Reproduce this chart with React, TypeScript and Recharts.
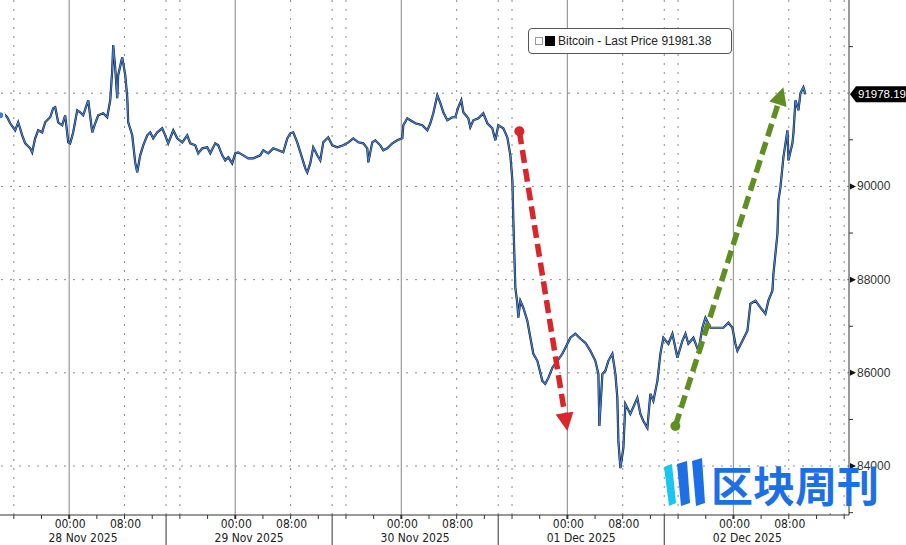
import React from "react";
import {
  ComposedChart,
  Line,
  XAxis,
  YAxis,
  ReferenceLine,
  ReferenceDot,
} from "recharts";

// hours from 28 Nov 2025 00:00
const HOURS = [
  -9.98, -9.54, -8.96, -8.53, -7.81, -7.37, -6.79, -6.36, -5.64, -5.35, -4.92, -4.48, -3.9, -3.47,
  -2.75, -2.31, -2.02, -1.59, -1.01, -0.58, -0.14, 0.14, 0.58, 1.16, 1.59, 2.02, 2.75, 3.33, 3.76,
  4.19, 4.92, 5.49, 5.93, 6.22, 6.36, 6.65, 6.94, 7.08, 7.66, 8.1, 8.39, 8.53, 9.11, 9.54, 9.83,
  10.26, 10.7, 11.28, 11.71, 12.14, 12.72, 13.44, 13.88, 14.31, 15.04, 15.61, 16.34, 17.06, 17.49,
  18.22, 18.65, 19.23, 19.95, 20.39, 21.11, 21.54, 22.12, 22.55, 22.99, 23.56, 24.0, 24.43, 25.16,
  25.88, 26.6, 27.61, 28.05, 28.77, 29.49, 30.22, 30.94, 31.52, 31.95, 32.38, 32.96, 33.68, 34.12,
  34.41, 34.84, 35.27, 35.85, 36.29, 36.72, 37.44, 38.02, 38.74, 39.61, 40.34, 41.06, 41.78, 42.5,
  43.08, 43.23, 43.8, 44.24, 44.96, 45.4, 45.97, 46.7, 47.42, 48.14, 48.29, 48.86, 49.3, 50.02,
  51.03, 51.76, 52.19, 52.62, 53.2, 53.64, 54.07, 54.65, 55.37, 55.8, 56.24, 56.67, 56.96, 57.68,
  57.97, 58.41, 59.13, 59.85, 60.43, 61.15, 61.59, 62.02, 62.74, 63.32, 63.76, 64.05, 64.19, 64.33,
  64.48, 64.77, 64.91, 65.2, 65.63, 66.21, 66.65, 67.08, 67.66, 68.38, 68.81, 69.25, 69.83, 70.55,
  71.27, 71.71, 72.43, 73.15, 73.88, 74.6, 75.32, 76.04, 76.48, 76.62, 77.06, 77.49, 77.92, 78.5,
  78.94, 79.22, 79.37, 79.66, 80.09, 80.38, 81.1, 82.11, 82.55, 82.98, 83.56, 83.99, 84.43, 85.01,
  85.44, 85.87, 86.6, 87.18, 87.9, 88.62, 89.06, 89.49, 90.21, 90.94, 91.51, 91.95, 92.67, 93.68,
  94.55, 95.27, 95.85, 96.28, 96.57, 97.3, 98.02, 98.45, 99.18, 99.9, 100.62, 101.05, 101.63,
  101.78, 102.07, 102.36, 102.5, 102.79, 103.22, 103.8, 103.95, 104.52, 104.67, 104.96, 105.39,
  105.68, 106.11, 106.4,
];

const PRICES = [
  91527, 91570, 91484, 91355, 91204, 91376, 91097, 90925, 90817, 90731, 91032, 91204, 91161, 91376,
  91484, 91677, 91699, 91376, 91312, 91527, 90946, 90925, 91161, 91634, 91591, 91527, 91849, 91161,
  91355, 91527, 91570, 91484, 91849, 92494, 93032, 92537, 91892, 92387, 92774, 92387, 91914, 91376,
  91097, 90516, 90301, 90667, 90882, 91097, 91161, 91032, 91161, 91247, 91097, 90925, 91204, 91032,
  90946, 91097, 90925, 90882, 90710, 90817, 90839, 90710, 90925, 90882, 90667, 90559, 90624, 90495,
  90710, 90731, 90667, 90602, 90602, 90667, 90774, 90710, 90817, 90774, 90731, 91032, 91140, 91161,
  90946, 90602, 90387, 90301, 90495, 90839, 90667, 90559, 90946, 91054, 90882, 90839, 90882, 90946,
  91032, 90946, 90925, 90817, 90516, 90946, 90989, 90882, 90774, 90817, 90925, 90989, 91032, 91312,
  91462, 91419, 91355, 91312, 91204, 91355, 91570, 91957, 91785, 91591, 91419, 91484, 91484, 91699,
  91849, 91591, 91462, 91269, 91419, 91462, 91570, 91355, 91247, 90989, 91312, 91247, 91054, 90667,
  90129, 89269, 88559, 87828, 87484, 87183, 87548, 87398, 87118, 86753, 86409, 86258, 85828, 85763,
  85892, 86107, 86258, 86409, 86538, 86753, 86839, 86731, 86645, 86473, 86258, 85978, 84860, 85978,
  86043, 86258, 86409, 85978, 85462, 84538, 83957, 84387, 85333, 85118, 85462, 85118, 84968, 84817,
  85548, 85398, 85828, 86409, 86753, 86624, 86839, 86323, 86688, 86839, 86624, 86753, 86473, 86968,
  87183, 86968, 86968, 86968, 87075, 86968, 86624, 86473, 86688, 86903, 87484, 87548, 87398, 87269,
  87548, 87763, 88129, 88559, 88989, 89699, 89978, 90624, 91204, 90559, 90925, 91140, 91849, 91634,
  92000, 92129, 91978,
];

const LAST_PRICE = 91978.19;
const LEGEND_PRICE = 91981.38;

const DAYS = ["28 Nov 2025", "29 Nov 2025", "30 Nov 2025", "01 Dec 2025", "02 Dec 2025"];
const DATE_CENTERS = [2, 26, 50, 74, 98];
const SEPARATORS = [14, 38, 62, 86];
const TIME_TICKS = [
  -8, -4, 0, 4, 8, 12, 16, 20, 24, 28, 32, 36, 40, 44, 48, 52, 56, 60, 64, 68, 72, 76, 80, 84, 88,
  92, 96, 100, 104, 108, 112,
];
const DAY_STARTS = [0, 24, 48, 72, 96];
const DOTTED_HOURS = [-8, 8, 14, 16, 32, 38, 40, 56, 62, 64, 80, 86, 88, 104, 110, 112];
const PRICE_GRID = [84000, 86000, 88000, 90000, 92000];
const PRICE_TICKS = [83000, 84000, 85000, 86000, 87000, 88000, 89000, 90000, 91000, 92000, 93000];

const RED_ARROW = [
  { h: 65.06, p: 91183 },
  { h: 72.0, p: 84753 },
];
const GREEN_ARROW = [
  { h: 87.61, p: 84860 },
  { h: 103.22, p: 92129 },
];

const data = HOURS.map((h, i) => ({ h, p: PRICES[i] }));
const xTicks = [...TIME_TICKS, ...SEPARATORS, ...DATE_CENTERS].sort((a, b) => a - b);

const AXIS_FONT = "'DejaVu Sans Condensed', 'DejaVu Sans', sans-serif";

function TimeTick(props: any) {
  const { x, y, payload } = props;
  const v = payload.value;
  const di = DATE_CENTERS.indexOf(v);
  if (di >= 0) {
    return (
      <text x={x} y={y + 27} textAnchor="middle" fontSize={12} fill="#222" fontFamily={AXIS_FONT}>
        {DAYS[di]}
      </text>
    );
  }
  if (SEPARATORS.includes(v)) {
    return <line x1={x} y1={y} x2={x} y2={y + 30} stroke="#333" strokeWidth={1} />;
  }
  const mod = ((v % 24) + 24) % 24;
  const label = mod === 0 ? "00:00" : mod === 8 ? "08:00" : null;
  return (
    <g>
      <line x1={x} y1={y} x2={x} y2={y + 4} stroke="#333" strokeWidth={mod === 0 ? 2 : 1} />
      {label && (
        <text x={x + 1} y={y + 13} textAnchor="middle" fontSize={12} fill="#222" fontFamily={AXIS_FONT}>
          {label}
        </text>
      )}
    </g>
  );
}

function PriceTick(props: any) {
  const { x, y, payload } = props;
  const v = payload.value;
  if (v % 2000 !== 0) {
    return <line x1={x} y1={y} x2={x + 4} y2={y} stroke="#333" strokeWidth={1} />;
  }
  if (v === 92000) return <g />;
  return (
    <g>
      <polygon points={`${x + 1},${y - 3} ${x + 7},${y} ${x + 1},${y + 3}`} fill="#111" />
      <text x={x + 8} y={y + 4} fontSize={12} fill="#333" fontFamily="'Liberation Sans', Arial, sans-serif">
        {v}
      </text>
    </g>
  );
}

function Arrow(props: any) {
  const { x1, y1, x2, y2, color } = props;
  const dx = x2 - x1;
  const dy = y2 - y1;
  const len = Math.sqrt(dx * dx + dy * dy);
  const ux = dx / len;
  const uy = dy / len;
  const head = 18;
  const half = 9;
  const bx = x2 - ux * head;
  const by = y2 - uy * head;
  return (
    <g>
      <line
        x1={x1}
        y1={y1}
        x2={bx}
        y2={by}
        stroke={color}
        strokeWidth={5.5}
        strokeDasharray="13 6"
      />
      <circle cx={x1} cy={y1} r={5} fill={color} />
      <polygon
        points={`${x2},${y2} ${bx - uy * half},${by + ux * half} ${bx + uy * half},${by - ux * half}`}
        fill={color}
      />
    </g>
  );
}

function PriceTag(props: any) {
  const { cx, cy } = props;
  return (
    <g>
      <polygon
        points={`${cx + 1},${cy} ${cx + 7},${cy - 8} ${cx + 57},${cy - 8} ${cx + 57},${cy + 8} ${cx + 7},${cy + 8}`}
        fill="#000"
      />
      <text x={cx + 9} y={cy + 4} fontSize={11.5} fill="#fff" fontFamily="'Liberation Sans', Arial, sans-serif">
        {LAST_PRICE.toFixed(2)}
      </text>
    </g>
  );
}

export default function App() {
  return (
    <div style={{ position: "absolute", left: 0, top: 0, width: 906, height: 545, background: "#fff", overflow: "hidden" }}>
      <ComposedChart width={906} height={545} data={data} margin={{ top: 0, right: 0, left: 0, bottom: 0 }}>
        <XAxis
          dataKey="h"
          type="number"
          domain={[-10, 112.7]}
          allowDataOverflow
          ticks={xTicks}
          interval={0}
          tick={<TimeTick />}
          tickLine={false}
          tickSize={0}
          tickMargin={0}
          height={30}
          axisLine={{ stroke: "#333" }}
        />
        <YAxis
          orientation="right"
          type="number"
          domain={[82950, 94000]}
          allowDataOverflow
          ticks={PRICE_TICKS}
          interval={0}
          tick={<PriceTick />}
          tickLine={false}
          tickSize={0}
          tickMargin={0}
          width={57}
          axisLine={{ stroke: "#333" }}
        />
        {PRICE_GRID.map((p) => (
          <ReferenceLine key={`g${p}`} y={p} stroke="#8a8a8a" strokeDasharray="2 7" />
        ))}
        {DOTTED_HOURS.map((h) => (
          <ReferenceLine key={`d${h}`} x={h} stroke="#8a8a8a" strokeDasharray="2 7" />
        ))}
        {DAY_STARTS.map((h) => (
          <ReferenceLine key={`s${h}`} x={h} stroke="#9a9a9a" strokeWidth={1.2} />
        ))}
        <Line dataKey="p" type="linear" stroke="#111" strokeWidth={2.2} dot={false} isAnimationActive={false} />
        <Line dataKey="p" type="linear" stroke="#3b7dd8" strokeWidth={1.3} dot={false} isAnimationActive={false} />
        <ReferenceLine
          segment={[
            { x: RED_ARROW[0].h, y: RED_ARROW[0].p },
            { x: RED_ARROW[1].h, y: RED_ARROW[1].p },
          ]}
          ifOverflow="visible"
          shape={(p: any) => <Arrow {...p} color="#d9262b" />}
        />
        <ReferenceLine
          segment={[
            { x: GREEN_ARROW[0].h, y: GREEN_ARROW[0].p },
            { x: GREEN_ARROW[1].h, y: GREEN_ARROW[1].p },
          ]}
          ifOverflow="visible"
          shape={(p: any) => <Arrow {...p} color="#5f8f22" />}
        />
        <ReferenceDot x={112.7} y={LAST_PRICE} r={0} ifOverflow="visible" shape={(p: any) => <PriceTag {...p} />} />
      </ComposedChart>

      <div
        style={{
          position: "absolute",
          left: 528,
          top: 28,
          width: 202,
          height: 24,
          border: "1px solid #555",
          borderRadius: 4,
          background: "#fff",
          display: "flex",
          alignItems: "center",
          fontFamily: "'Liberation Sans', Arial, sans-serif",
          fontSize: 12,
          color: "#222",
          whiteSpace: "nowrap",
        }}
      >
        <span
          style={{
            display: "inline-block",
            width: 6,
            height: 6,
            border: "1px solid #999",
            marginLeft: 6,
            marginRight: 2,
          }}
        />
        <span style={{ display: "inline-block", width: 10, height: 10, background: "#000", marginRight: 3 }} />
        <span>Bitcoin - Last Price {LEGEND_PRICE.toFixed(2)}</span>
      </div>

      <svg width={906} height={545} style={{ position: "absolute", left: 0, top: 0, pointerEvents: "none" }}>
        <polygon points="664,467 672,464 676,503 669,506" fill="#19c6ef" />
        <polygon points="677,464 687,461 690,503 681,506" fill="#1d6fe6" />
        <polygon points="692,461 702,458 705,503 696,506" fill="#1d6fe6" />
      </svg>
      <div
        style={{
          position: "absolute",
          left: 711,
          top: 460,
          fontFamily: "'Noto Sans CJK SC', sans-serif",
          fontWeight: 700,
          fontSize: 42,
          lineHeight: "48px",
          color: "#1d6fe6",
          whiteSpace: "nowrap",
        }}
      >
        区块周刊
      </div>
    </div>
  );
}
